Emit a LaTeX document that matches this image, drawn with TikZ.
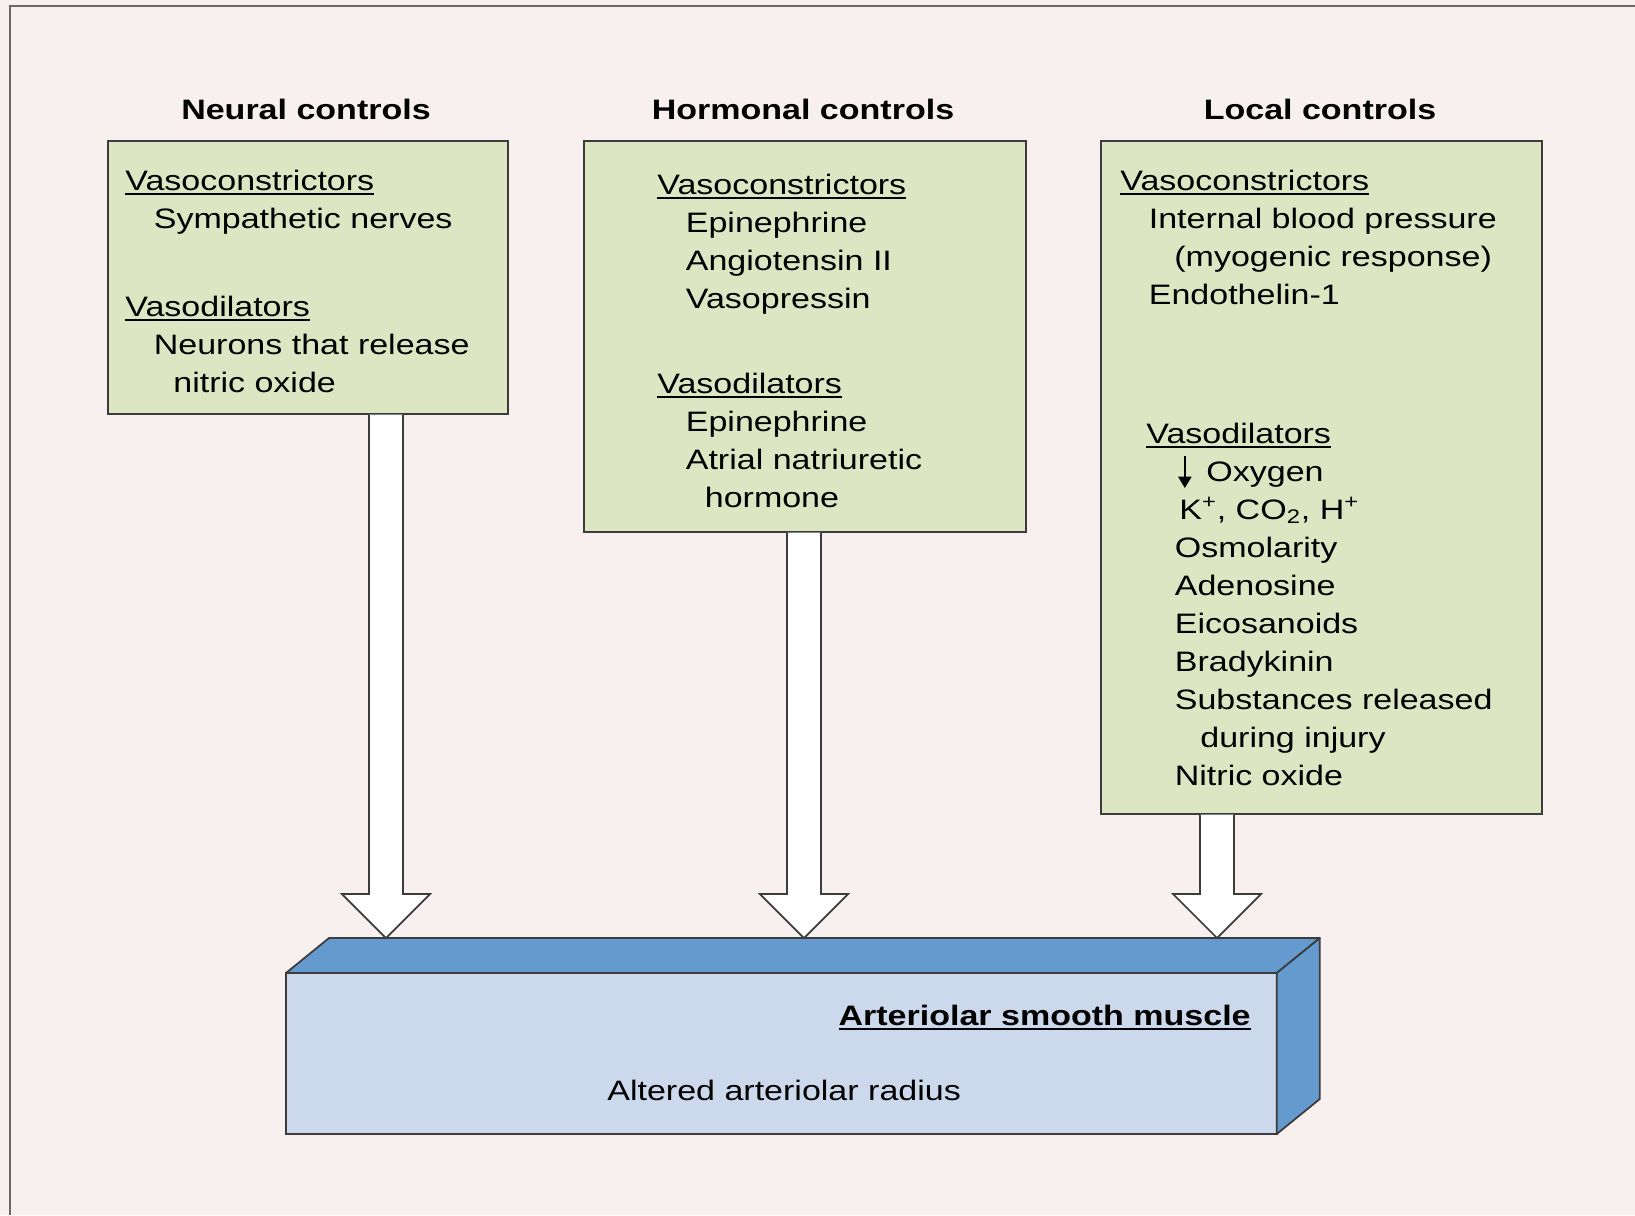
\documentclass[tikz,border=0pt]{standalone}
\usepackage{fontspec}
\setmainfont{Liberation Sans}[FakeStretch=1.21]
\usetikzlibrary{calc,arrows.meta}

\definecolor{pagebg}{RGB}{248,240,238}
\definecolor{framegray}{RGB}{105,105,105}
\definecolor{edgegray}{RGB}{60,60,60}
\definecolor{boxgreen}{RGB}{221,230,195}
\definecolor{musclefront}{RGB}{204,217,236}
\definecolor{muscleside}{RGB}{100,154,205}

% underlined heading word
\newcommand{\ulword}[1]{\setbox0=\hbox{#1}\rlap{\rule[-2.6pt]{\wd0}{1.15pt}}\box0}
% indent of list items
\newcommand{\ind}[1][0.57cm]{\hspace*{#1}}
% small down arrow before Oxygen
\newcommand{\lowarrow}{\tikz[baseline=0pt]\draw[line width=1.4pt,-{Triangle[length=6.5pt,width=7.4pt]}] (0pt,14pt) -- (0pt,-4pt);}

\begin{document}
\begin{tikzpicture}[x=0.02cm, y=-0.02cm, font=\fontsize{16}{21.66}\selectfont,
    ctrlbox/.style={draw=edgegray, line width=1pt, fill=boxgreen, anchor=north west, inner sep=0pt},
    heading/.style={anchor=base, font=\fontsize{16}{21.66}\selectfont\bfseries},
    items/.style={anchor=base west, inner sep=0pt},
    bigarrow/.style={draw=edgegray, line width=1pt, fill=white},
    face/.style={draw=edgegray, line width=1pt, line join=round, fill=muscleside}]

  % page and frame
  \useasboundingbox (0,0) rectangle (1635,1215);
  \fill[pagebg] (0,0) rectangle (1635,1215);
  \draw[framegray, line width=1.1pt] (10,1215) -- (10,6) -- (1635,6);

  % headings
  \node[heading] (hneural) at (306,119) {Neural controls};
  \node[heading] (hhormonal) at (803,119) {Hormonal controls};
  \node[heading] (hlocal) at (1320,119) {Local controls};

  % the three boxes
  \node[ctrlbox, minimum width=8cm, minimum height=5.46cm] (neural) at (107,140) {};
  \node[ctrlbox, minimum width=8.84cm, minimum height=7.82cm] (hormonal) at (583,140) {};
  \node[ctrlbox, minimum width=8.82cm, minimum height=13.46cm] (local) at (1100,140) {};

  % neural
  \node[items] (nvc) at (125,190) {\begin{tabular}[t]{@{}l@{}}
    \ulword{Vasoconstrictors}\\
    \ind Sympathetic nerves
  \end{tabular}};
  \node[items] (nvd) at (125,316) {\begin{tabular}[t]{@{}l@{}}
    \ulword{Vasodilators}\\
    \ind Neurons that release\\
    \ind[0.96cm]nitric oxide
  \end{tabular}};

  % hormonal
  \node[items] (hvc) at (657,194) {\begin{tabular}[t]{@{}l@{}}
    \ulword{Vasoconstrictors}\\
    \ind Epinephrine\\
    \ind Angiotensin II\\
    \ind Vasopressin
  \end{tabular}};
  \node[items] (hvd) at (657,393) {\begin{tabular}[t]{@{}l@{}}
    \ulword{Vasodilators}\\
    \ind Epinephrine\\
    \ind Atrial natriuretic\\
    \ind[0.95cm]hormone
  \end{tabular}};

  % local
  \node[items] (lvc) at (1120,190) {\begin{tabular}[t]{@{}l@{}}
    \ulword{Vasoconstrictors}\\
    \ind Internal blood pressure\\
    \ind[1.08cm](myogenic response)\\
    \ind Endothelin-1
  \end{tabular}};
  \node[items] (lvd) at (1146,443) {\begin{tabular}[t]{@{}l@{}}
    \ulword{Vasodilators}\\
    \ind[0.64cm]\lowarrow\hspace{0.3cm}Oxygen\\
    \ind[0.66cm]K\textsuperscript{+}, CO\textsubscript{2}, H\textsuperscript{+}\\
    \ind Osmolarity\\
    \ind Adenosine\\
    \ind Eicosanoids\\
    \ind Bradykinin\\
    \ind Substances released\\
    \ind[1.08cm]during injury\\
    \ind Nitric oxide
  \end{tabular}};

  % smooth muscle block
  \node[draw=edgegray, line width=1pt, fill=musclefront, anchor=north west,
        minimum width=19.82cm, minimum height=3.22cm, inner sep=0pt, outer sep=0pt] (muscle) at (286,973) {};
  \draw[face] (muscle.north west) -- ++(43,-35) -- ($(muscle.north east)+(43,-35)$) -- (muscle.north east) -- cycle;
  \draw[face] (muscle.north east) -- ++(43,-35) -- ($(muscle.south east)+(43,-35)$) -- (muscle.south east) -- cycle;
  \node[anchor=base east, inner sep=0pt] (mtitle) at (1251,1025) {\bfseries\ulword{Arteriolar smooth muscle}};
  \node[anchor=base west, inner sep=0pt] (mradius) at (607,1100) {Altered arteriolar radius};

  % arrow tips on the back edge of the block
  \coordinate (tipn) at (386,938);
  \coordinate (tiph) at (804,938);
  \coordinate (tipl) at (1217,938);

  \foreach \tip/\src in {tipn/neural, tiph/hormonal, tipl/local}
    \draw[bigarrow] ($(\src.south -| \tip)+(-17,0)$) -- ($(\tip)+(-17,-44)$) -- ++(-27,0)
      -- (\tip) -- ++(44,-44) -- ++(-27,0) -- ($(\src.south -| \tip)+(17,0)$);
\end{tikzpicture}
\end{document}
